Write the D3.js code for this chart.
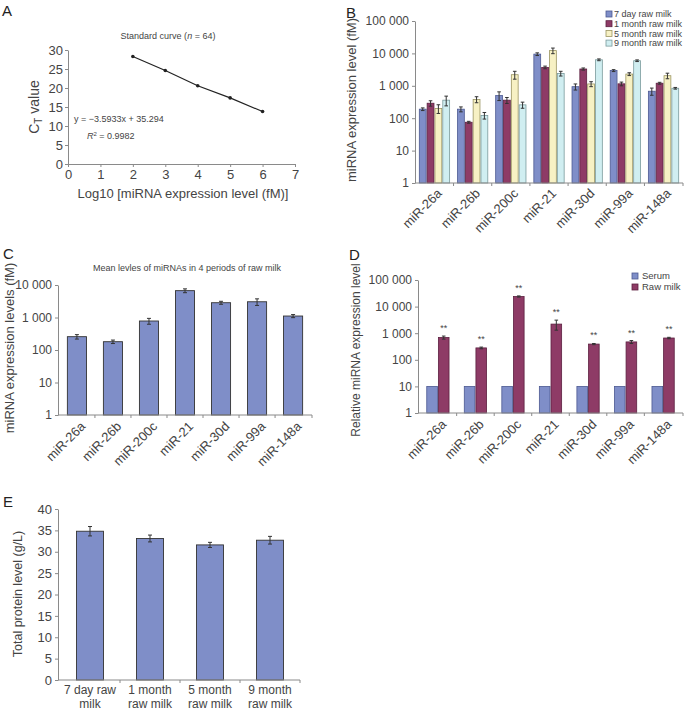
<!DOCTYPE html>
<html><head><meta charset="utf-8">
<script src="https://cdn.jsdelivr.net/npm/d3@7"></script>
<style>
body{margin:0;background:#fff;}
svg{display:block;font-family:"Liberation Sans",Arial,sans-serif;}
</style></head>
<body><svg id="c" width="685" height="712"></svg>
<script>
// ---------- DATA ----------
const curveX = [2, 3, 4, 5, 6];
const curveCt = [28.3, 24.6, 20.6, 17.4, 13.8];
const aXTicks = [0, 1, 2, 3, 4, 5, 6, 7];
const aYTicks = [0, 5, 10, 15, 20, 25, 30];

const mirnas = ["miR-26a", "miR-26b", "miR-200c", "miR-21", "miR-30d", "miR-99a", "miR-148a"];
const periods = ["7 day raw milk", "1 month raw milk", "5 month raw milk", "9 month raw milk"];
const day7 = [190, 190, 500, 9500, 940, 2950, 680];
const day7Err = [18, 33, 150, 900, 200, 200, 170];
const month1 = [290, 75, 360, 3700, 3300, 1150, 1200];
const month1Err = [55, 5, 75, 350, 250, 150, 80];
const month5 = [200, 380, 2200, 12200, 1140, 2300, 2050];
const month5Err = [60, 80, 600, 2400, 200, 230, 400];
const month9 = [360, 122, 258, 2400, 6350, 5950, 840];
const month9Err = [120, 28, 55, 400, 400, 350, 50];
const logTicks5 = [1, 10, 100, 1000, 10000, 100000];
const logTicks4 = [1, 10, 100, 1000, 10000];

const meanLevels = [257, 180, 780, 6700, 2850, 3050, 1110];
const meanErr = [40, 22, 160, 900, 300, 700, 120];

const groupsD = ["Serum", "Raw milk"];
const serum = [10, 10, 10, 10, 10, 10, 10];
const rawMilk = [690, 280, 24000, 2200, 390, 470, 660];
const rawMilkErr = [90, 20, 1200, 900, 20, 60, 40];

const proteinCats = [["7 day raw", "milk"], ["1 month", "raw milk"], ["5 month", "raw milk"], ["9 month", "raw milk"]];
const protein = [34.8, 33.1, 31.6, 32.7];
const proteinErr = [1.1, 0.8, 0.6, 0.9];
const eYTicks = [0, 5, 10, 15, 20, 25, 30, 35, 40];

// ---------- STYLE ----------
const AX = "#8a8a8a", TXT = "#444", ERR = "#333";
const BLUE = "#7f8ec8", MAROON = "#8e3b66", YELLOW = "#f7f1c4", CYAN = "#d0eef1";
const fmt = d => d3.format(",")(d).replace(/,/g, " ");

const svg = d3.select("#c");

function panelLetter(t, x, y) {
  svg.append("text").attr("x", x).attr("y", y).attr("font-size", 15).attr("fill", "#222").text(t);
}
function styleAxis(g, fs) {
  g.selectAll(".domain").attr("stroke", AX);
  g.selectAll(".tick line").attr("stroke", AX);
  g.selectAll(".tick text").attr("fill", TXT).attr("font-size", fs || 12).attr("font-family", "Liberation Sans, Arial, sans-serif");
}
function yTitle(t, x, y, fs) {
  return svg.append("text").attr("transform", `translate(${x},${y}) rotate(-90)`).attr("text-anchor", "middle")
    .attr("font-size", fs || 13).attr("fill", TXT).text(t);
}
function errBar(g, cx, y1, y2, cap) {
  g.append("line").attr("x1", cx).attr("x2", cx).attr("y1", y1).attr("y2", y2).attr("stroke", ERR).attr("stroke-width", 1);
  g.append("line").attr("x1", cx - cap).attr("x2", cx + cap).attr("y1", y1).attr("y2", y1).attr("stroke", ERR).attr("stroke-width", 1);
  g.append("line").attr("x1", cx - cap).attr("x2", cx + cap).attr("y1", y2).attr("y2", y2).attr("stroke", ERR).attr("stroke-width", 1);
}
function bandTicks(g, x, y0, x0, x1) {
  const step = x.step(), pi = x.paddingInner();
  const pos = [];
  x.domain().forEach((d, i) => { if (i > 0) pos.push(x(d) - step * pi / 2); });
  pos.push(x1);
  pos.forEach(p => g.append("line").attr("x1", p).attr("x2", p).attr("y1", y0).attr("y2", y0 + 3).attr("stroke", AX));
}
function rotLabels(g, x, y0, dx, dy) {
  x.domain().forEach(d => {
    g.append("text").attr("transform", `translate(${x(d) + x.bandwidth() / 2 + dx},${y0 + dy}) rotate(-45)`)
      .attr("text-anchor", "end").attr("dy", "0.35em").attr("font-size", 13).attr("fill", TXT).text(d);
  });
}

// ---------- PANEL A ----------
(function () {
  panelLetter("A", 2, 16);
  const x = d3.scaleLinear().domain([0, 7]).range([68, 295]);
  const y = d3.scaleLinear().domain([0, 30]).range([164, 50]);
  const g = svg.append("g");
  const gx = g.append("g").attr("transform", "translate(0,164)").call(d3.axisBottom(x).tickValues(aXTicks).tickFormat(d3.format("d")).tickSize(3).tickSizeOuter(0));
  styleAxis(gx, 13);
  const gy = g.append("g").attr("transform", "translate(68,0)").call(d3.axisLeft(y).tickValues(aYTicks).tickFormat(d3.format("d")).tickSize(3).tickSizeOuter(0));
  styleAxis(gy, 13);
  gy.selectAll(".tick text").attr("x", -5);
  gx.selectAll(".tick text").attr("y", 6);
  g.append("path").datum(curveX.map((d, i) => [d, curveCt[i]]))
    .attr("d", d3.line().x(d => x(d[0])).y(d => y(d[1]))).attr("fill", "none").attr("stroke", "#222").attr("stroke-width", 1.2);
  g.selectAll("circle").data(curveX).join("circle").attr("cx", d => x(d)).attr("cy", (d, i) => y(curveCt[i])).attr("r", 1.8).attr("fill", "#222");
  svg.append("text").attr("x", 168).attr("y", 39).attr("text-anchor", "middle").attr("font-size", 9).attr("fill", TXT)
    .html('Standard curve (<tspan font-style="italic">n</tspan> = 64)');
  svg.append("text").attr("x", 74).attr("y", 122).attr("font-size", 9).attr("fill", TXT).text("y = \u22123.5933x + 35.294");
  svg.append("text").attr("x", 87).attr("y", 139).attr("font-size", 9).attr("fill", TXT)
    .html('<tspan font-style="italic">R</tspan><tspan dy="-3" font-size="6">2</tspan><tspan dy="3"> = 0.9982</tspan>');
  svg.append("text").attr("transform", "translate(39,107) rotate(-90)").attr("text-anchor", "middle").attr("font-size", 14).attr("fill", TXT)
    .html('C<tspan font-size="10" dy="3">T</tspan><tspan dy="-3"> value</tspan>');
  svg.append("text").attr("x", 183).attr("y", 198).attr("text-anchor", "middle").attr("font-size", 13).attr("fill", TXT)
    .text("Log10 [miRNA expression level (fM)]");
})();

// ---------- PANEL B ----------
(function () {
  panelLetter("B", 346, 18);
  const x0 = d3.scaleBand().domain(mirnas).range([415, 683]).paddingInner(0.18).paddingOuter(0.1);
  const x1 = d3.scaleBand().domain(periods).range([0, x0.bandwidth()]).padding(0);
  const y = d3.scaleLog().domain([1, 100000]).range([183, 21]);
  const series = [day7, month1, month5, month9];
  const errs = [day7Err, month1Err, month5Err, month9Err];
  const fills = [BLUE, MAROON, YELLOW, CYAN];
  const strokes = ["#4d5a92", "#5c2040", "#9a9460", "#7a9a9c"];
  const g = svg.append("g");
  series.forEach((s, si) => {
    s.forEach((v, i) => {
      const bx = x0(mirnas[i]) + x1(periods[si]);
      g.append("rect").attr("x", bx + 0.5).attr("y", y(v)).attr("width", x1.bandwidth() - 1).attr("height", y(1) - y(v))
        .attr("fill", fills[si]).attr("stroke", strokes[si]).attr("stroke-width", 0.8);
    });
  });
  series.forEach((s, si) => {
    s.forEach((v, i) => {
      const cx = x0(mirnas[i]) + x1(periods[si]) + x1.bandwidth() / 2;
      errBar(g, cx, y(v + errs[si][i]), y(Math.max(1, v - errs[si][i])), 1.8);
    });
  });
  const gy = g.append("g").attr("transform", "translate(415,0)").call(d3.axisLeft(y).tickValues(logTicks5).tickFormat(fmt).tickSize(3).tickSizeOuter(0));
  styleAxis(gy, 12);
  g.append("line").attr("x1", 415).attr("x2", 683).attr("y1", 183).attr("y2", 183).attr("stroke", AX);
  bandTicks(g, x0, 183, 415, 683);
  rotLabels(g, x0, 183, 5, 8);
  yTitle("miRNA expression level (fM)", 356, 100, 13);
  const lg = svg.append("g");
  periods.forEach((p, i) => {
    const yy = 14 + i * 9.7;
    lg.append("rect").attr("x", 606).attr("y", yy - 3).attr("width", 6).attr("height", 6).attr("fill", fills[i]).attr("stroke", strokes[i]).attr("stroke-width", 0.8);
    lg.append("text").attr("x", 614).attr("y", yy).attr("dy", "0.35em").attr("font-size", 9).attr("fill", TXT).text(p);
  });
})();

// ---------- PANEL C ----------
(function () {
  panelLetter("C", 3, 259);
  const x = d3.scaleBand().domain(mirnas).range([58, 312]).paddingInner(0.47).paddingOuter(0.26);
  const y = d3.scaleLog().domain([1, 10000]).range([415, 285]);
  const g = svg.append("g");
  meanLevels.forEach((v, i) => {
    g.append("rect").attr("x", x(mirnas[i])).attr("y", y(v)).attr("width", x.bandwidth()).attr("height", y(1) - y(v))
      .attr("fill", BLUE).attr("stroke", "#333").attr("stroke-width", 0.9);
  });
  meanLevels.forEach((v, i) => {
    errBar(g, x(mirnas[i]) + x.bandwidth() / 2, y(v + meanErr[i]), y(v - meanErr[i]), 2);
  });
  const gy = g.append("g").attr("transform", "translate(58,0)").call(d3.axisLeft(y).tickValues(logTicks4).tickFormat(fmt).tickSize(3).tickSizeOuter(0));
  styleAxis(gy, 12);
  g.append("line").attr("x1", 58).attr("x2", 312).attr("y1", 415).attr("y2", 415).attr("stroke", AX);
  bandTicks(g, x, 415, 58, 312);
  rotLabels(g, x, 415, 6, 9);
  svg.append("text").attr("x", 187).attr("y", 271).attr("text-anchor", "middle").attr("font-size", 9).attr("fill", TXT)
    .text("Mean levles of miRNAs in 4 periods of raw milk");
  yTitle("miRNA expression levels (fM)", 14, 348, 13);
})();

// ---------- PANEL D ----------
(function () {
  panelLetter("D", 349, 260);
  const x0 = d3.scaleBand().domain(mirnas).range([418, 683]).paddingInner(0.38).paddingOuter(0.22);
  const x1 = d3.scaleBand().domain(groupsD).range([0, x0.bandwidth()]).padding(0);
  const y = d3.scaleLog().domain([1, 100000]).range([413, 280]);
  const g = svg.append("g");
  const series = [serum, rawMilk];
  const fills = [BLUE, MAROON];
  const strokes = ["#4d5a92", "#5c2040"];
  series.forEach((s, si) => {
    s.forEach((v, i) => {
      g.append("rect").attr("x", x0(mirnas[i]) + x1(groupsD[si]) + 0.5).attr("y", y(v)).attr("width", x1.bandwidth() - 1).attr("height", y(1) - y(v))
        .attr("fill", fills[si]).attr("stroke", strokes[si]).attr("stroke-width", 0.8);
    });
  });
  rawMilk.forEach((v, i) => {
    const cx = x0(mirnas[i]) + x1("Raw milk") + x1.bandwidth() / 2;
    const top = y(v + rawMilkErr[i]);
    errBar(g, cx, top, y(v - rawMilkErr[i]), 1.8);
    g.append("text").attr("x", cx).attr("y", top - 5).attr("text-anchor", "middle").attr("font-size", 9).attr("fill", TXT).text("**");
  });
  const gy = g.append("g").attr("transform", "translate(418,0)").call(d3.axisLeft(y).tickValues(logTicks5).tickFormat(fmt).tickSize(3).tickSizeOuter(0));
  styleAxis(gy, 12);
  g.append("line").attr("x1", 418).attr("x2", 683).attr("y1", 413).attr("y2", 413).attr("stroke", AX);
  bandTicks(g, x0, 413, 418, 683);
  rotLabels(g, x0, 413, 6, 9);
  yTitle("Relative miRNA expression level", 360, 350, 12);
  groupsD.forEach((p, i) => {
    const yy = 276 + i * 11;
    svg.append("rect").attr("x", 632).attr("y", yy - 3).attr("width", 6).attr("height", 6).attr("fill", fills[i]).attr("stroke", strokes[i]).attr("stroke-width", 0.8);
    svg.append("text").attr("x", 642).attr("y", yy).attr("dy", "0.35em").attr("font-size", 9.5).attr("fill", TXT).text(p);
  });
})();

// ---------- PANEL E ----------
(function () {
  panelLetter("E", 3, 507);
  const names = proteinCats.map(d => d.join(" "));
  const x = d3.scaleBand().domain(names).range([60, 300]).paddingInner(0.55).paddingOuter(0.275);
  const y = d3.scaleLinear().domain([0, 40]).range([680, 509]);
  const g = svg.append("g");
  protein.forEach((v, i) => {
    g.append("rect").attr("x", x(names[i])).attr("y", y(v)).attr("width", x.bandwidth()).attr("height", y(0) - y(v))
      .attr("fill", BLUE).attr("stroke", "#333").attr("stroke-width", 0.9);
  });
  protein.forEach((v, i) => {
    errBar(g, x(names[i]) + x.bandwidth() / 2, y(v + proteinErr[i]), y(v - proteinErr[i]), 2);
  });
  const gy = g.append("g").attr("transform", "translate(58,0)").call(d3.axisLeft(y).tickValues(eYTicks).tickSize(3).tickSizeOuter(0));
  styleAxis(gy, 13);
  g.append("line").attr("x1", 58).attr("x2", 300).attr("y1", 680).attr("y2", 680).attr("stroke", AX);
  bandTicks(g, x, 680, 58, 300);
  proteinCats.forEach((c, i) => {
    const cx = x(names[i]) + x.bandwidth() / 2;
    c.forEach((line, li) => {
      g.append("text").attr("x", cx).attr("y", 694 + li * 14).attr("text-anchor", "middle").attr("font-size", 12).attr("fill", TXT).text(line);
    });
  });
  yTitle("Total protein level (g/L)", 22, 594, 12.5);
})();
</script></body></html>
